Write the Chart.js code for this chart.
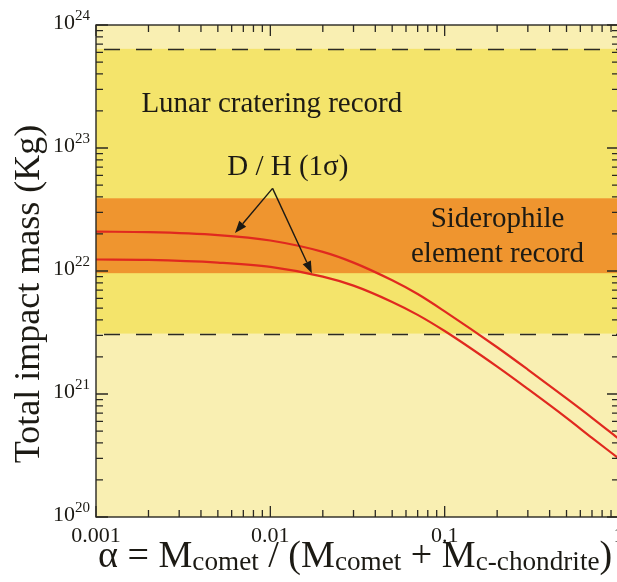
<!DOCTYPE html>
<html>
<head>
<meta charset="utf-8">
<script src="https://cdn.jsdelivr.net/npm/chart.js@4.4.0/dist/chart.umd.min.js"></script>
<style>
html, body { margin: 0; padding: 0; background: #fff; overflow: hidden; }
#wrap { width: 622px; height: 582px; }
</style>
</head>
<body>
<div id="wrap"><canvas id="massChart" width="622" height="582"></canvas></div>
<script>
// alpha = M_comet / (M_comet + M_c-chondrite)
const alphaValues = [0.001, 0.002, 0.005, 0.01, 0.02, 0.03, 0.05, 0.07, 0.1, 0.2, 0.3, 0.5, 0.7, 1];
// D/H 1-sigma bounds, total impact mass (kg)
const upperMass = [2.09e22, 2.07e22, 1.96e22, 1.77e22, 1.43e22, 1.17e22, 8.4e21, 6.5e21, 4.7e21, 2.40e21, 1.58e21, 9.2e20, 6.4e20, 4.3e20];
const lowerMass = [1.24e22, 1.23e22, 1.17e22, 1.08e22, 9.0e21, 7.6e21, 5.6e21, 4.4e21, 3.25e21, 1.67e21, 1.10e21, 6.4e20, 4.4e20, 2.98e20];
// record ranges (kg)
const lunarRange = [3.1e21, 6.4e23];
const siderophileRange = [9.6e21, 3.9e22];
// axes
const xTickValues = [0.001, 0.01, 0.1, 1];
const xTickLabels = ['0.001', '0.01', '0.1', '1'];
const yTickExponents = [20, 21, 22, 23, 24];

const SERIF = '"Liberation Serif", "DejaVu Serif", serif';
const INK = '#1c1a14';

function toPoints(ys) {
    return alphaValues.map((a, i) => ({ x: a, y: ys[i] }));
}

// Background, record bands and dashed lunar limits
const bandsPlugin = {
    id: 'bands',
    beforeDatasetsDraw(chart) {
        const { ctx, chartArea: a, scales: { y } } = chart;
        ctx.save();
        ctx.fillStyle = '#f9efb2';
        ctx.fillRect(a.left, a.top, a.width, a.height);
        const band = (r, color) => {
            const top = y.getPixelForValue(r[1]);
            const bottom = y.getPixelForValue(r[0]);
            ctx.fillStyle = color;
            ctx.fillRect(a.left, top, a.width, bottom - top);
        };
        band(lunarRange, '#f4e46b');
        band(siderophileRange, '#ef952f');

        ctx.strokeStyle = '#2b2a24';
        ctx.lineWidth = 1.6;
        ctx.setLineDash([16, 16]);
        ctx.lineDashOffset = -8;
        ctx.beginPath();
        lunarRange.forEach(v => {
            const py = Math.round(y.getPixelForValue(v)) + 0.5;
            ctx.moveTo(a.left, py);
            ctx.lineTo(a.right, py);
        });
        ctx.stroke();
        ctx.restore();
    }
};

// Frame, inward log ticks, tick labels, titles and annotations
const decorPlugin = {
    id: 'decor',
    afterDatasetsDraw(chart) {
        const { ctx, chartArea: a, scales: { x, y } } = chart;
        ctx.save();

        // annotations
        ctx.fillStyle = INK;
        ctx.font = '29px ' + SERIF;
        ctx.textAlign = 'center';
        ctx.textBaseline = 'middle';
        ctx.fillText('Lunar cratering record', x.getPixelForValue(0.0102), y.getPixelForValue(2.28e23));
        ctx.fillText('D / H (1σ)', x.getPixelForValue(0.0126), y.getPixelForValue(6.9e22));
        ctx.fillText('Siderophile', x.getPixelForValue(0.201), y.getPixelForValue(2.65e22));
        ctx.fillText('element record', x.getPixelForValue(0.201), y.getPixelForValue(1.37e22));

        // arrows from label to the two curves
        const apex = [x.getPixelForValue(0.0103), y.getPixelForValue(4.7e22)];
        const tips = [[0.00627, 2.04e22], [0.0173, 9.6e21]];
        ctx.strokeStyle = INK;
        ctx.lineWidth = 1.4;
        tips.forEach(t => {
            const tx = x.getPixelForValue(t[0]), ty = y.getPixelForValue(t[1]);
            const ang = Math.atan2(ty - apex[1], tx - apex[0]);
            const hl = 12, hw = 4.5;
            const bx = tx - hl * Math.cos(ang), by = ty - hl * Math.sin(ang);
            ctx.beginPath();
            ctx.moveTo(apex[0], apex[1]);
            ctx.lineTo(bx, by);
            ctx.stroke();
            ctx.beginPath();
            ctx.moveTo(tx, ty);
            ctx.lineTo(bx + hw * Math.sin(ang), by - hw * Math.cos(ang));
            ctx.lineTo(bx - hw * Math.sin(ang), by + hw * Math.cos(ang));
            ctx.closePath();
            ctx.fill();
        });

        // frame
        ctx.strokeStyle = '#2a2822';
        ctx.lineWidth = 1.4;
        ctx.strokeRect(a.left, a.top, a.width, a.height);

        // minor / major ticks pointing inwards on all four sides
        ctx.lineWidth = 1.3;
        ctx.beginPath();
        const logTicks = (scale, fn) => {
            const d0 = Math.round(Math.log10(scale.min));
            const d1 = Math.round(Math.log10(scale.max));
            for (let d = d0; d <= d1; d++) {
                for (let k = 1; k <= 9; k++) {
                    if (d === d1 && k > 1) break;
                    fn(scale.getPixelForValue(k * Math.pow(10, d)), k === 1);
                }
            }
        };
        logTicks(x, (px, major) => {
            const len = major ? 11 : 7;
            ctx.moveTo(px, a.bottom); ctx.lineTo(px, a.bottom - len);
            ctx.moveTo(px, a.top); ctx.lineTo(px, a.top + len);
        });
        logTicks(y, (py, major) => {
            const len = major ? 12 : 7;
            ctx.moveTo(a.left, py); ctx.lineTo(a.left + len, py);
            ctx.moveTo(a.right, py); ctx.lineTo(a.right - len, py);
        });
        ctx.stroke();

        // x tick labels
        ctx.fillStyle = INK;
        ctx.font = '22px ' + SERIF;
        ctx.textAlign = 'center';
        ctx.textBaseline = 'alphabetic';
        xTickValues.forEach((v, i) => {
            ctx.fillText(xTickLabels[i], x.getPixelForValue(v), a.bottom + 25);
        });

        // y tick labels 10^n
        yTickExponents.forEach(e => {
            const py = y.getPixelForValue(Math.pow(10, e));
            ctx.font = '15px ' + SERIF;
            ctx.textAlign = 'right';
            const supW = ctx.measureText(String(e)).width;
            ctx.fillText(String(e), a.left - 6, py - 5);
            ctx.font = '22px ' + SERIF;
            ctx.fillText('10', a.left - 6 - supW, py + 4);
        });

        // y title
        ctx.save();
        ctx.translate(30, 294);
        ctx.rotate(-Math.PI / 2);
        ctx.font = '36px ' + SERIF;
        ctx.textAlign = 'center';
        ctx.textBaseline = 'middle';
        ctx.fillText('Total impact mass (Kg)', 0, 0);
        ctx.restore();

        // x title with subscripts
        const runs = [
            ['α = M', false], ['comet', true], [' / (M', false], ['comet', true],
            [' + M', false], ['c-chondrite', true], [')', false]
        ];
        const mainSize = 28, subSize = 20;
        ctx.textAlign = 'left';
        let total = 0;
        runs.forEach(r => {
            ctx.font = (r[1] ? subSize : mainSize) + 'px ' + SERIF;
            total += ctx.measureText(r[0]).width;
        });
        const s = 514 / total;
        let cx = 98;
        runs.forEach(r => {
            ctx.font = ((r[1] ? subSize : mainSize) * s).toFixed(1) + 'px ' + SERIF;
            ctx.fillText(r[0], cx, 567 + (r[1] ? 3 : 0));
            cx += ctx.measureText(r[0]).width;
        });

        ctx.restore();
    }
};

const ctx = document.getElementById('massChart').getContext('2d');
new Chart(ctx, {
    type: 'line',
    data: {
        datasets: [
            {
                label: 'D/H upper',
                data: toPoints(upperMass),
                borderColor: '#e0291f',
                borderWidth: 2.2,
                pointRadius: 0,
                cubicInterpolationMode: 'monotone',
                fill: false
            },
            {
                label: 'D/H lower',
                data: toPoints(lowerMass),
                borderColor: '#e0291f',
                borderWidth: 2.2,
                pointRadius: 0,
                cubicInterpolationMode: 'monotone',
                fill: false
            }
        ]
    },
    options: {
        responsive: false,
        animation: false,
        layout: {
            padding: { left: 96, top: 25, right: 3, bottom: 65 }
        },
        plugins: {
            legend: { display: false },
            tooltip: { enabled: false }
        },
        scales: {
            x: {
                type: 'logarithmic',
                min: 0.001,
                max: 1,
                display: false
            },
            y: {
                type: 'logarithmic',
                min: 1e20,
                max: 1e24,
                display: false
            }
        }
    },
    plugins: [bandsPlugin, decorPlugin]
});
</script>
</body>
</html>
